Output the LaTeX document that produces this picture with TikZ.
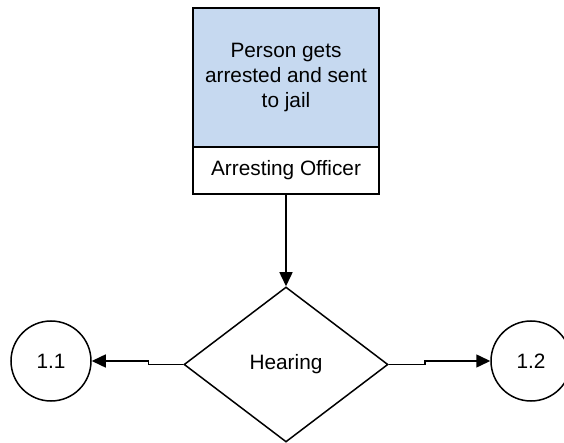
\documentclass[tikz,border=0pt]{standalone}
\usepackage{fontspec}
\setmainfont{Liberation Sans}
\usepackage{tikz}
\usetikzlibrary{arrows.meta,positioning,shapes.geometric}
\definecolor{eventblue}{RGB}{198,217,240}
\begin{document}
\begin{tikzpicture}[x=0.5bp,y=-0.5bp,font=\fontsize{10.4bp}{12.3bp}\selectfont]
	\tikzstyle{every path}=[line width=0.75bp]
	\tikzstyle{event}=[rectangle,draw,fill=eventblue,outer sep=0pt,minimum width=93bp,minimum height=69.5bp,align=center]
	\tikzstyle{actor}=[rectangle,draw,fill=white,outer sep=0pt,minimum width=93bp,minimum height=23.5bp]
	\tikzstyle{decision}=[diamond,draw,inner sep=0pt,minimum width=102bp,minimum height=77.5bp]
	\tikzstyle{refer}=[circle,draw,inner sep=0pt,minimum size=40bp]
	\tikzstyle{flow}=[-{Triangle[length=7bp,width=6.5bp]}]
	\useasboundingbox (0,0) rectangle (564,443);
	\node (event)    at (286,77.5) [event] {Person gets\\arrested and sent\\to jail};
	\node (actor)    [actor,below=0pt of event] {Arresting Officer};
	\node (hearing)  at (286,364.5) [decision] {Hearing};
	\node (ref1)     at (51,361) [refer] {1.1};
	\node (ref2)     at (531,361) [refer] {1.2};
	\draw [flow] (actor.south) -- (hearing.north);
	\draw [flow] (hearing.west) -- ++(-35,0) |- (ref1.east);
	\draw [flow] (hearing.east) -- ++(36,0) |- (ref2.west);
\end{tikzpicture}
\end{document}
